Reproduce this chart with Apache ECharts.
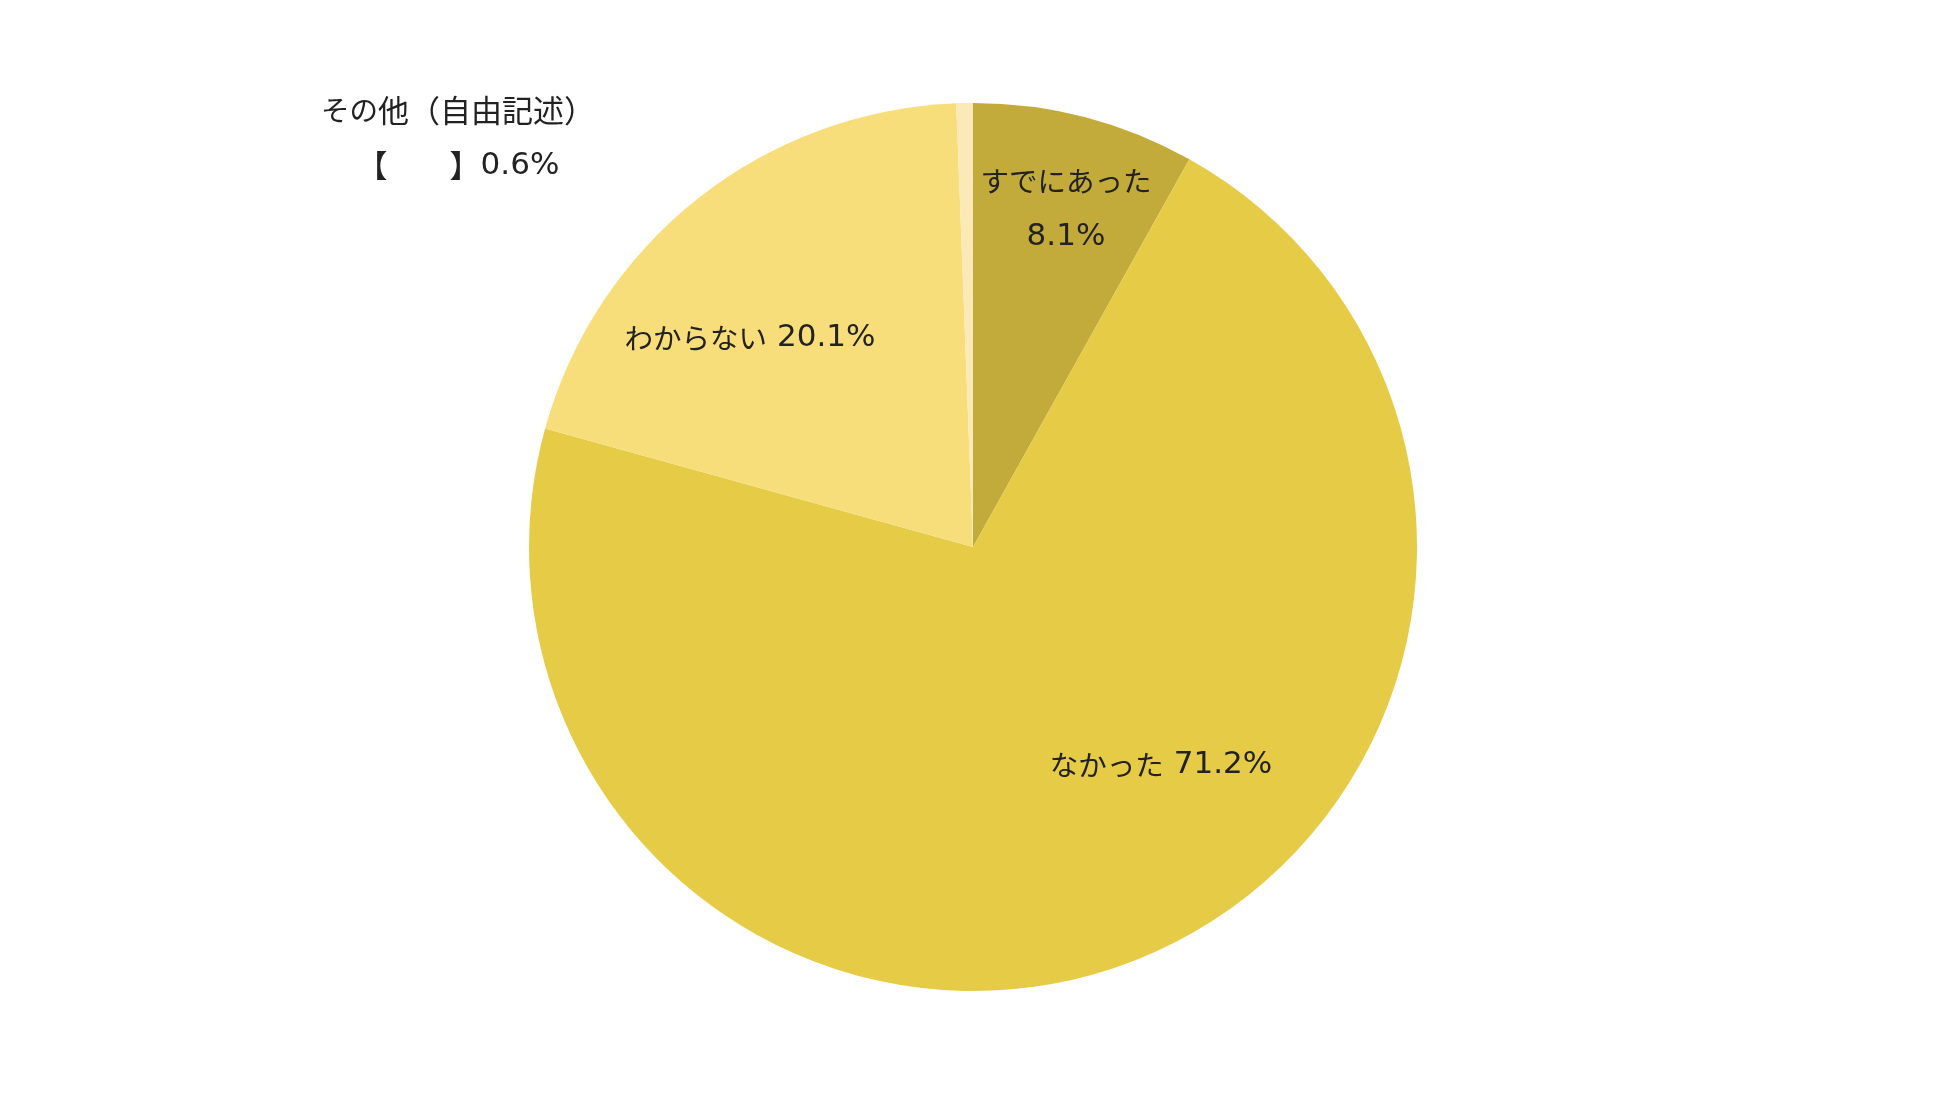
<!DOCTYPE html>
<html>
<head>
<meta charset="utf-8">
<script src="https://cdn.jsdelivr.net/npm/echarts@6/dist/echarts.min.js"></script>
<style>
  html, body { margin: 0; padding: 0; background: #fff; }
  #chart { width: 1950px; height: 1098px; }
</style>
</head>
<body>
<div id="chart"></div>
<script>
// 回答カテゴリと割合（%）
const categories = ['すでにあった', 'なかった', 'わからない', 'その他（自由記述）'];
const values = [8.1, 71.2, 20.1, 0.6];
const colors = ['#C3AB3B', '#E6CB47', '#F7DE7B', '#FBE9B7'];

// ラベルの置き場所（ピクセル）
const labelPos = [
  [1066, 209],
  [1161, 765],
  [750, 338],
  [458, 138]
];

// かな・漢字・数字で文字の大きさを変える（元の図のフォントに近づける）
function toRich(str) {
  let out = '';
  let cur = null;
  let buf = '';
  for (const ch of str) {
    let t;
    if (/[\u3040-\u309f]/.test(ch)) t = 'k';
    else if (/[\x20-\x7e]/.test(ch)) t = 'n';
    else t = 'c';
    if (t !== cur) {
      if (buf) out += '{' + cur + '|' + buf + '}';
      buf = '';
      cur = t;
    }
    buf += ch;
  }
  if (buf) out += '{' + cur + '|' + buf + '}';
  return out;
}

const chart = echarts.init(document.getElementById('chart'));

chart.setOption({
  animation: false,
  series: [
    {
      type: 'pie',
      center: [973, 547],
      radius: 444,
      startAngle: 90,
      clockwise: true,
      silent: true,
      itemStyle: { borderWidth: 0 },
      labelLine: { show: false },
      label: {
        show: true,
        position: 'inside',
        color: '#222',
        lineHeight: 55,
        align: 'center',
        formatter: function (p) {
          let lines;
          if (p.dataIndex === 0) lines = [p.name, p.value + '%'];
          else if (p.dataIndex === 3) lines = [p.name, '【　　】' + p.value + '%'];
          else lines = [p.name + ' ' + p.value + '%'];
          return lines.map(toRich).join('\n');
        },
        rich: {
          k: { fontFamily: 'Noto Sans CJK JP', fontSize: 28.5, color: '#222', lineHeight: 55 },
          c: { fontFamily: 'Noto Sans CJK JP', fontSize: 31, color: '#222', lineHeight: 55 },
          n: { fontFamily: 'DejaVu Sans', fontSize: 31, color: '#222', lineHeight: 55 }
        }
      },
      labelLayout: function (params) {
        const pos = labelPos[params.dataIndex];
        return { x: pos[0], y: pos[1], align: 'center', verticalAlign: 'middle' };
      },
      data: categories.map(function (name, i) {
        return { name: name, value: values[i], itemStyle: { color: colors[i] } };
      })
    }
  ]
});
</script>
</body>
</html>
